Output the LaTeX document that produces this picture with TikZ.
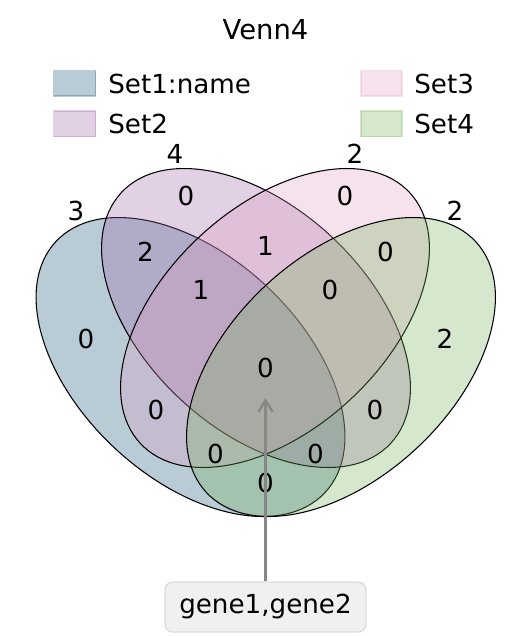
\documentclass[tikz,border=0pt]{standalone}
\usepackage{fontspec}
\setmainfont{DejaVu Sans}
\usetikzlibrary{arrows.meta}

\definecolor{setone}{RGB}{22,85,118}
\definecolor{settwo}{RGB}{158,98,165}
\definecolor{setthree}{RGB}{222,158,192}
\definecolor{setfour}{RGB}{115,178,88}
\definecolor{notefill}{RGB}{240,240,240}
\definecolor{noteedge}{RGB}{220,220,220}
\definecolor{pointergray}{RGB}{135,135,135}

\tikzset{
    setbody/.style={fill=#1, fill opacity=0.3, draw=black, line width=0.6pt},
    legendbox/.style={fill=#1, draw=#1, opacity=0.3, line width=0.8pt},
    txt/.style={font=\fontsize{14.9}{18}\selectfont, inner sep=0pt},
    notebox/.style={txt, draw=noteedge, fill=notefill, line width=0.8pt,
        rounded corners=4.5pt, minimum width=4.02cm, minimum height=1cm},
    pointer/.style={draw=pointergray, line width=1.4pt,
        -{Straight Barb[length=6.5pt, width=8pt]}}
}

\begin{document}
\begin{tikzpicture}[x=0.02cm, y=-0.02cm]
    \useasboundingbox (0,0) rectangle (531,636);
    % title
    \node[font=\fontsize{15.6}{19}\selectfont, inner sep=0pt, anchor=base] (title) at (265.5,39) {Venn4};
    % legend
    \draw[legendbox=setone] (53.5,70.5) rectangle (95.5,96);
    \draw[legendbox=settwo] (53.5,111) rectangle (95.5,136.5);
    \draw[legendbox=setthree] (361,70.5) rectangle (402,96);
    \draw[legendbox=setfour] (361,111) rectangle (402,136.5);
    \node[txt, anchor=base west] (name1) at (108,93) {Set1:name};
    \node[txt, anchor=base west] (name2) at (108,133.5) {Set2};
    \node[txt, anchor=base west] (name3) at (414,93) {Set3};
    \node[txt, anchor=base west] (name4) at (414,133.5) {Set4};
    % the four sets
    \draw[setbody=setone, rotate around={137:(190.5,367)}] (190.5,367) ellipse [x radius=184, y radius=111];
    \draw[setbody=settwo, rotate around={137:(256,318)}] (256,318) ellipse [x radius=184, y radius=111];
    \draw[setbody=setthree, rotate around={43:(275,318)}] (275,318) ellipse [x radius=184, y radius=111];
    \draw[setbody=setfour, rotate around={43:(341,367)}] (341,367) ellipse [x radius=184, y radius=111];
    % set sizes
    \node[txt] (size1) at (76,211) {3};
    \node[txt] (size2) at (175,154) {4};
    \node[txt] (size3) at (355,154) {2};
    \node[txt] (size4) at (455,211) {2};
    % region counts
    \foreach \r/\x/\y/\n in {1000/86/339/0, 0100/186/196/0, 0010/345/196/0, 0001/445/339/2,
                             1100/145.5/251.5/2, 0110/265.5/246/1, 0011/385.5/251.5/0,
                             1110/201/290/1, 0111/330/290/0, 1111/265.5/368/0,
                             1010/156/410/0, 0101/375/410/0, 1011/215.5/454/0,
                             1101/315.5/454/0, 1001/265.5/483/0} {
        \node[txt] (c\r) at (\x,\y) {\n};
    }
    % annotation
    \node[notebox] (note) at (265.5,607) {gene1,gene2};
    \coordinate (hit) at (265.5,398);
    \draw[pointer] (note.north) -- (hit);
\end{tikzpicture}
\end{document}
